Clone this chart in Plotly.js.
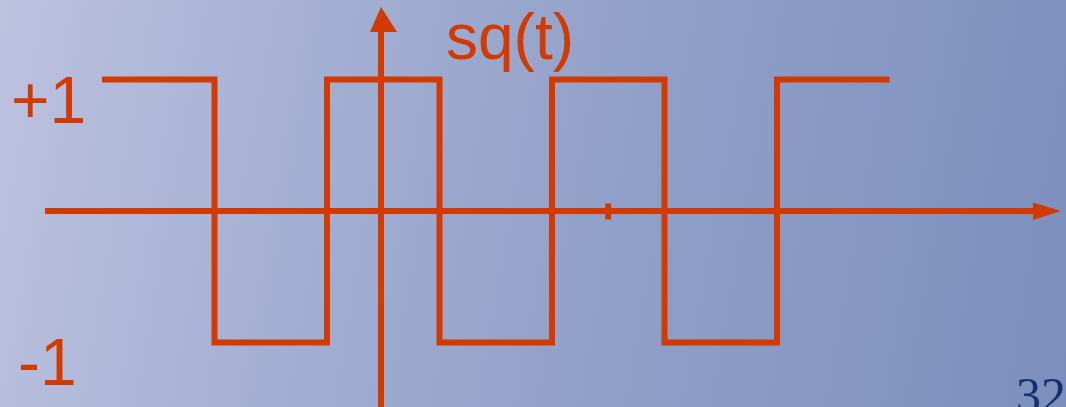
<!DOCTYPE html>
<html>
<head>
<meta charset="utf-8">
<script src="https://cdn.plot.ly/plotly-3.0.1.min.js"></script>
<style>
  html, body { margin: 0; padding: 0; width: 1066px; height: 407px; overflow: hidden; }
  body { background: linear-gradient(100deg, #bdc2df 0%, #a3afd2 30%, #909fc8 60%, #7b8fbd 100%); }
  #chart { width: 1066px; height: 407px; }
</style>
</head>
<body>
<div id="chart"></div>
<script>
// ---- data ----
const edgeTimes = [-1.24, -0.74, -0.24, 0.26, 0.76, 1.26, 1.76, 2.26]; // segment boundaries of sq(t)
const levels = [1, -1, 1, -1, 1, -1, 1];                              // value of each segment
const tickTimes = [1.01];                                              // marked tick on t axis
const labels = { title: 'sq(t)', plus: '+1', minus: '-1', page: '32' };

// ---- scales (pixel frame of the picture) ----
const W = 1066, H = 407;
const X0 = 381, SX = 225;   // px of t=0, px per unit t
const Y0 = 211, SY = 131.5; // px of value 0, px per unit value
const xr = [(0 - X0) / SX, (W - X0) / SX];
const yr = [(Y0 - H) / SY, Y0 / SY];
const tx = px => (px - X0) / SX;
const ty = py => (Y0 - py) / SY;

const RED = '#d13a00';

const wave = {
  x: edgeTimes,
  y: levels.concat([levels[levels.length - 1]]),
  mode: 'lines',
  line: { color: RED, width: 6, shape: 'hv' },
  hoverinfo: 'skip'
};
const tAxis = {
  x: [tx(45), tx(1036)], y: [0, 0], mode: 'lines',
  line: { color: RED, width: 6 }, hoverinfo: 'skip'
};
const vAxis = {
  x: [0, 0], y: [ty(420), ty(30)], mode: 'lines',
  line: { color: RED, width: 6 }, hoverinfo: 'skip'
};
const tickTraces = tickTimes.map(t => ({
  x: [t, t], y: [ty(219.5), ty(203.5)], mode: 'lines',
  line: { color: RED, width: 6 }, hoverinfo: 'skip'
}));

const shapes = [
  { type: 'path', xref: 'x', yref: 'y', fillcolor: RED, line: { width: 0 },
    path: `M ${tx(1033)} ${ty(202.5)} L ${tx(1061)} ${ty(211)} L ${tx(1033)} ${ty(220)} Z` },
  { type: 'path', xref: 'x', yref: 'y', fillcolor: RED, line: { width: 0 },
    path: `M ${tx(370)} ${ty(32)} L ${tx(381)} ${ty(7)} L ${tx(397)} ${ty(32)} Z` }
];

const sans = 'Liberation Sans, Arial, sans-serif';
const annotations = [
  { text: labels.title, xref: 'paper', yref: 'paper', x: 444 / W, y: 1 - 37 / H,
    xanchor: 'left', yanchor: 'middle', showarrow: false,
    font: { family: sans, size: 64, color: RED } },
  { text: labels.plus, xref: 'paper', yref: 'paper', x: 9 / W, y: 1 - 100 / H,
    xanchor: 'left', yanchor: 'middle', showarrow: false,
    font: { family: sans, size: 66, color: RED } },
  { text: labels.minus, xref: 'paper', yref: 'paper', x: 16 / W, y: 1 - 362 / H,
    xanchor: 'left', yanchor: 'middle', showarrow: false,
    font: { family: sans, size: 66, color: RED } },
  { text: labels.page, xref: 'paper', yref: 'paper', x: 1014 / W, y: 1 - 395 / H,
    xanchor: 'left', yanchor: 'middle', showarrow: false,
    font: { family: 'Liberation Serif, Times New Roman, serif', size: 50, color: '#15306c' } }
];

const layout = {
  width: W, height: H,
  margin: { l: 0, r: 0, t: 0, b: 0, pad: 0 },
  paper_bgcolor: 'rgba(0,0,0,0)', plot_bgcolor: 'rgba(0,0,0,0)',
  showlegend: false,
  xaxis: { range: xr, visible: false, fixedrange: true },
  yaxis: { range: yr, visible: false, fixedrange: true },
  shapes: shapes,
  annotations: annotations
};

Plotly.newPlot('chart', [tAxis, vAxis, wave].concat(tickTraces), layout, { displayModeBar: false, staticPlot: true });
</script>
</body>
</html>
